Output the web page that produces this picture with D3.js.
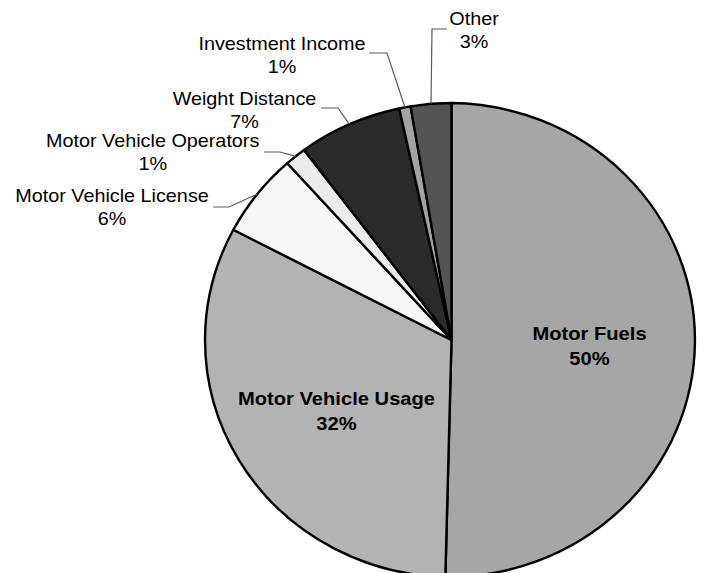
<!DOCTYPE html>
<html>
<head>
<meta charset="utf-8">
<script src="https://cdn.jsdelivr.net/npm/d3@7"></script>
<style>
  body { margin: 0; background: #fff; }
  text { font-family: "Liberation Sans", Arial, sans-serif; }
</style>
</head>
<body>
<div id="chart"></div>
<script>
// revenue share by source, clockwise from 12 o'clock
var categories = ["Motor Fuels", "Motor Vehicle Usage", "Motor Vehicle License",
  "Motor Vehicle Operators", "Weight Distance", "Investment Income", "Other"];
var values = [50.4, 32.3, 5.7, 1.4, 6.8, 0.75, 2.65];
var pctLabels = ["50%", "32%", "6%", "1%", "7%", "1%", "3%"];

var colors = ["#a6a6a6", "#b3b3b3", "#f8f8f8", "#ebebeb", "#2b2b2b", "#a3a3a3", "#545454"];

// label placement (inside labels bold, outside ones get a leader line)
var labelLayout = [
  { x: 589.5, y: 340, inside: true },
  { x: 336.5, y: 405, inside: true },
  { x: 112, y: 201.7, lx: 213, ly: 207, ex: 229 },
  { x: 152.7, y: 147, lx: 264, ly: 152, ex: 280 },
  { x: 244.5, y: 104.5, lx: 321, ly: 108, ex: 338 },
  { x: 282, y: 50, lx: 369, ly: 53, ex: 387 },
  { x: 474, y: 25, lx: 447, ly: 29, ex: 432 }
];

var width = 704, height = 573;
var cx = 451.5, cy = 340, rx = 246.5, ry = 237;

var svg = d3.select("#chart").append("svg")
  .attr("width", width)
  .attr("height", height);

var pie = d3.pie().sort(null).value(function(d) { return d; });
var arcs = pie(values);

var arc = d3.arc().innerRadius(0).outerRadius(1);

var pieGroup = svg.append("g")
  .attr("transform", "translate(" + cx + "," + cy + ") scale(" + rx + "," + ry + ")");

pieGroup.selectAll("path")
  .data(arcs)
  .enter().append("path")
  .attr("d", arc)
  .attr("fill", function(d, i) { return colors[i]; })
  .attr("stroke", "#000")
  .attr("stroke-width", 2.4)
  .attr("stroke-linejoin", "round")
  .attr("vector-effect", "non-scaling-stroke");

// leader lines
arcs.forEach(function(d, i) {
  var L = labelLayout[i];
  if (L.inside) return;
  var mid = (d.startAngle + d.endAngle) / 2;
  var px = cx + rx * Math.sin(mid);
  var py = cy - ry * Math.cos(mid);
  svg.append("polyline")
    .attr("points", [[L.lx, L.ly], [L.ex, L.ly], [px, py]].join(" "))
    .attr("fill", "none")
    .attr("stroke", "#5a5a5a")
    .attr("stroke-width", 1.2);
});

// labels - text is a little wide in the original, so stretch it horizontally
var lab = svg.selectAll(".lab")
  .data(arcs)
  .enter().append("text")
  .attr("class", "lab")
  .attr("transform", function(d, i) {
    var L = labelLayout[i];
    return "translate(" + L.x + "," + L.y + ") scale(" + (L.inside ? 1.12 : 1.1) + ",1)";
  })
  .attr("text-anchor", "middle")
  .attr("font-size", 18)
  .attr("font-weight", function(d, i) { return labelLayout[i].inside ? "bold" : "normal"; })
  .attr("fill", "#000");

lab.append("tspan")
  .attr("x", 0)
  .attr("y", 0)
  .text(function(d, i) { return categories[i]; });

lab.append("tspan")
  .attr("x", 0)
  .attr("y", function(d, i) { return labelLayout[i].inside ? 25.5 : 23.5; })
  .text(function(d, i) { return pctLabels[i]; });
</script>
</body>
</html>
